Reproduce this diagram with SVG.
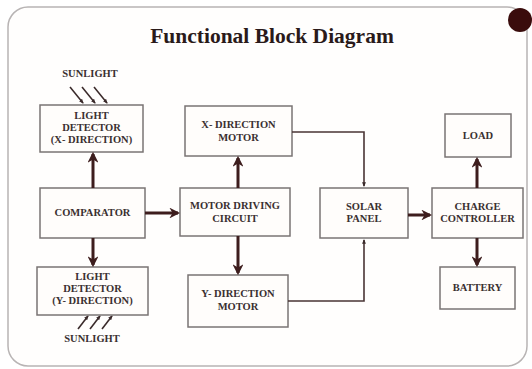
<svg xmlns="http://www.w3.org/2000/svg" width="532" height="369" viewBox="0 0 532 369">
<defs>
<style>
.box{fill:#fffdfb;stroke:#7a7474;stroke-width:1.5}
.t{font-family:"Liberation Serif","Times New Roman",serif;font-weight:bold;font-size:10.5px;fill:#3a3030;text-anchor:middle}
.thick{stroke:#3d1d1d;stroke-width:3;fill:none}
.thin{stroke:#4a3535;stroke-width:1.6;fill:none}
.sun{stroke:#3a2a2a;stroke-width:1.6;fill:none}
</style>
<marker id="ah" viewBox="0 0 10 10" refX="8" refY="5" markerWidth="3.6" markerHeight="3.6" orient="auto" markerUnits="strokeWidth">
<path d="M0,0 L10,5 L0,10 L3,5 Z" fill="#3d1d1d"/>
</marker>
<marker id="sh" viewBox="0 0 10 10" refX="8" refY="5" markerWidth="3" markerHeight="3" orient="auto" markerUnits="strokeWidth">
<path d="M0,1 L10,5 L0,9 Z" fill="#3a2a2a"/>
</marker>
</defs>
<rect x="0" y="0" width="532" height="369" fill="#ffffff"/>
<rect x="8" y="7" width="519" height="359" rx="20" fill="#fffefd" stroke="#b8b4b4" stroke-width="1.5"/>
<circle cx="520" cy="20" r="12" fill="#3a0c0c"/>
<text x="272" y="43" font-family="Liberation Serif, serif" font-weight="bold" font-size="21.5" fill="#2a1a1a" text-anchor="middle">Functional Block Diagram</text>

<g id="sun-top">
<text class="t" x="90" y="77">SUNLIGHT</text>
<line class="sun" x1="70" y1="87" x2="83" y2="103" marker-end="url(#sh)"/>
<line class="sun" x1="82" y1="87" x2="95" y2="103" marker-end="url(#sh)"/>
<line class="sun" x1="94" y1="87" x2="107" y2="103" marker-end="url(#sh)"/>
</g>
<g id="sun-bottom">
<line class="sun" x1="78" y1="329" x2="88" y2="316" marker-end="url(#sh)"/>
<line class="sun" x1="90" y1="329" x2="100" y2="316" marker-end="url(#sh)"/>
<line class="sun" x1="102" y1="329" x2="112" y2="316" marker-end="url(#sh)"/>
<text class="t" x="92" y="342">SUNLIGHT</text>
</g>

<g id="light-x">
<rect class="box" x="40" y="105" width="103" height="47"/>
<text class="t" x="91.5" y="119">LIGHT</text>
<text class="t" x="91.5" y="131">DETECTOR</text>
<text class="t" x="91.5" y="143">(X- DIRECTION)</text>
</g>
<g id="comparator">
<rect class="box" x="40" y="188" width="105" height="50"/>
<text class="t" x="92.5" y="216">COMPARATOR</text>
</g>
<g id="light-y">
<rect class="box" x="37" y="267" width="111" height="48"/>
<text class="t" x="92.5" y="280">LIGHT</text>
<text class="t" x="92.5" y="292">DETECTOR</text>
<text class="t" x="92.5" y="304">(Y- DIRECTION)</text>
</g>
<g id="x-motor">
<rect class="box" x="185" y="106" width="107" height="50"/>
<text class="t" x="238.5" y="128">X- DIRECTION</text>
<text class="t" x="238.5" y="141">MOTOR</text>
</g>
<g id="motor-driving">
<rect class="box" x="180" y="188" width="110" height="48"/>
<text class="t" x="235" y="209">MOTOR DRIVING</text>
<text class="t" x="235" y="222">CIRCUIT</text>
</g>
<g id="y-motor">
<rect class="box" x="188" y="275" width="100" height="52"/>
<text class="t" x="238" y="297">Y- DIRECTION</text>
<text class="t" x="238" y="310">MOTOR</text>
</g>
<g id="solar-panel">
<rect class="box" x="320" y="188" width="88" height="50"/>
<text class="t" x="364" y="210">SOLAR</text>
<text class="t" x="364" y="222">PANEL</text>
</g>
<g id="charge-controller">
<rect class="box" x="432" y="188" width="91" height="50"/>
<text class="t" x="477.5" y="210">CHARGE</text>
<text class="t" x="477.5" y="222">CONTROLLER</text>
</g>
<g id="load">
<rect class="box" x="445" y="114" width="66" height="43"/>
<text class="t" x="478" y="139">LOAD</text>
</g>
<g id="battery">
<rect class="box" x="440" y="267" width="75" height="42"/>
<text class="t" x="477.5" y="291">BATTERY</text>
</g>

<g id="connectors">
<line class="thick" x1="93" y1="188" x2="93" y2="154" marker-end="url(#ah)"/>
<line class="thick" x1="93" y1="238" x2="93" y2="265" marker-end="url(#ah)"/>
<line class="thick" x1="145" y1="213" x2="178" y2="213" marker-end="url(#ah)"/>
<line class="thick" x1="238" y1="188" x2="238" y2="158" marker-end="url(#ah)"/>
<line class="thick" x1="238" y1="236" x2="238" y2="273" marker-end="url(#ah)"/>
<polyline class="thin" points="292,132 364,132 364,186" marker-end="url(#sh)"/>
<polyline class="thin" points="288,301 364,301 364,240" marker-end="url(#sh)"/>
<line class="thick" x1="408" y1="215" x2="430" y2="215" marker-end="url(#ah)"/>
<line class="thick" x1="477" y1="188" x2="477" y2="159" marker-end="url(#ah)"/>
<line class="thick" x1="477" y1="238" x2="477" y2="265" marker-end="url(#ah)"/>
</g>
</svg>
